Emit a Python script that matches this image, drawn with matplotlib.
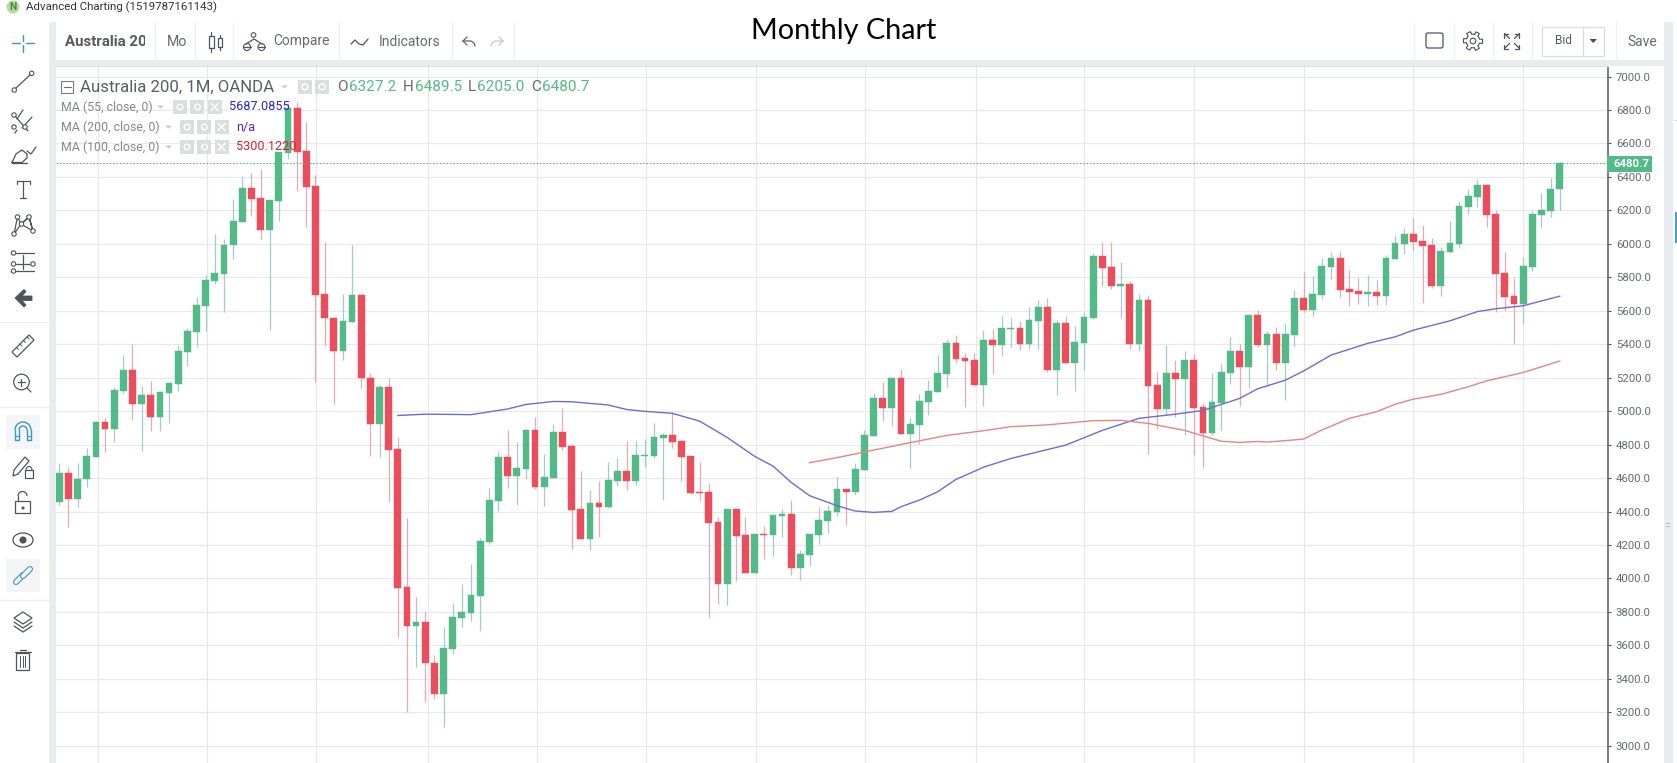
import numpy as np
import matplotlib
matplotlib.use('Agg')
import matplotlib.pyplot as plt
from matplotlib.patches import Rectangle, Circle, Polygon, Arc, FancyBboxPatch

plt.rcParams['font.family'] = ['Roboto', 'DejaVu Sans']

# monthly candles
opens = [4456, 4631, 4477, 4597, 4725, 4933, 4892, 5121, 5246, 5041,
         5095, 4964, 5108, 5162, 5354, 5472, 5629, 5778, 5818, 5993,
         6131, 6334, 6273, 6083, 6255, 6542, 6811, 6555, 6345, 5700,
         5559, 5359, 5531, 5693, 5200, 4923, 5144, 4774, 3948, 3717,
         3738, 3494, 3312, 3578, 3763, 3795, 3895, 4218, 4463, 4726,
         4612, 4654, 4887, 4546, 4600, 4875, 4791, 4415, 4236, 4451,
         4427, 4582, 4642, 4582, 4730, 4732, 4839, 4857, 4821, 4732,
         4517, 4517, 4337, 3967, 4415, 4260, 4032, 4266, 4260, 4373,
         4385, 4062, 4140, 4260, 4343, 4397, 4534, 4517, 4648, 4851,
         5078, 5018, 5198, 4863, 4917, 5054, 5114, 5221, 5407, 5317,
         5305, 5156, 5425, 5395, 5490, 5496, 5401, 5538, 5622, 5245,
         5526, 5287, 5407, 5556, 5927, 5861, 5747, 5759, 5401, 5664,
         5156, 5012, 5227, 5192, 5305, 5024, 4869, 5048, 5227, 5359,
         5263, 5574, 5395, 5460, 5287, 5454, 5676, 5604, 5694, 5861,
         5915, 5729, 5717, 5700, 5711, 5688, 5909, 5998, 6058, 6016,
         5992, 5747, 5950, 5998, 6220, 6279, 6351, 6178, 5825, 5688,
         5640, 5861, 6172, 6196, 6327.2]
highs = [4692, 4666, 4692, 4777, 4944, 4957, 5144, 5336, 5400, 5149,
         5180, 5123, 5174, 5398, 5495, 5682, 5816, 6057, 6026, 6267,
         6406, 6424, 6447, 6262, 6550, 6842, 6847, 6727, 6411, 6011,
         5559, 5700, 5993, 5703, 5231, 5154, 5200, 4846, 4361, 3892,
         3807, 3545, 3712, 3851, 3966, 4086, 4240, 4542, 4762, 4887,
         4815, 4891, 4967, 4744, 4923, 5019, 4801, 4642, 4529, 4582,
         4696, 4720, 4821, 4821, 4833, 4929, 4867, 4995, 4827, 4732,
         4696, 4570, 4367, 4415, 4415, 4367, 4266, 4313, 4379, 4415,
         4469, 4170, 4267, 4425, 4439, 4606, 4534, 4688, 4887, 5106,
         5174, 5198, 5251, 4957, 5102, 5186, 5335, 5431, 5455, 5347,
         5347, 5484, 5490, 5568, 5556, 5538, 5622, 5664, 5676, 5544,
         5568, 5508, 5592, 5943, 6010, 6010, 5891, 5777, 5700, 5694,
         5239, 5395, 5305, 5359, 5341, 5048, 5227, 5281, 5443, 5401,
         5574, 5604, 5478, 5502, 5526, 5723, 5831, 5807, 5915, 5951,
         5957, 5843, 5795, 5813, 5783, 5933, 6052, 6094, 6154, 6112,
         6034, 5980, 6136, 6255, 6327, 6387, 6357, 6202, 5951, 5795,
         5921, 6196, 6303, 6393, 6489.5]
lows = [4438, 4307, 4425, 4546, 4725, 4756, 4815, 5108, 4949, 4764,
        4882, 4882, 4928, 5123, 5269, 5385, 5482, 5760, 5595, 5911,
        6131, 6167, 6026, 5488, 6139, 6509, 6316, 6103, 5175, 5390,
        5041, 5308, 5531, 5139, 4731, 4726, 4456, 3653, 3204, 3473,
        3263, 3281, 3114, 3548, 3709, 3748, 3688, 4206, 4403, 4540,
        4439, 4594, 4536, 4433, 4600, 4768, 4176, 4236, 4170, 4248,
        4421, 4552, 4529, 4558, 4666, 4720, 4469, 4780, 4582, 4507,
        4463, 3763, 3847, 3841, 3985, 4032, 4032, 4116, 4134, 4248,
        4020, 3991, 4074, 4206, 4271, 4373, 4319, 4499, 4648, 4851,
        4941, 4911, 4863, 4660, 4803, 4976, 5114, 5144, 5287, 5024,
        5150, 5030, 5221, 5329, 5383, 5365, 5371, 5371, 5233, 5096,
        5287, 5120, 5245, 5550, 5747, 5730, 5556, 5371, 5359, 4743,
        4893, 4976, 4964, 4857, 4737, 4660, 4857, 4881, 5162, 5030,
        5144, 5383, 5150, 5245, 5066, 5383, 5592, 5568, 5670, 5789,
        5682, 5628, 5640, 5628, 5634, 5634, 5909, 5939, 5963, 5646,
        5735, 5688, 5945, 5974, 6178, 6220, 6100, 5592, 5598, 5401,
        5520, 5837, 6094, 6160, 6205]
closes = [4631, 4477, 4597, 4731, 4933, 4892, 5126, 5246, 5041, 5095,
          4964, 5113, 5167, 5359, 5480, 5634, 5783, 5826, 5995, 6137,
          6334, 6267, 6083, 6262, 6550, 6811, 6550, 6339, 5693, 5557,
          5359, 5539, 5693, 5200, 4923, 5144, 4769, 3943, 3717, 3740,
          3492, 3312, 3582, 3769, 3799, 3901, 4224, 4469, 4726, 4612,
          4660, 4887, 4546, 4606, 4875, 4786, 4409, 4236, 4451, 4427,
          4588, 4642, 4582, 4738, 4738, 4845, 4857, 4815, 4726, 4511,
          4511, 4331, 3967, 4415, 4254, 4032, 4266, 4260, 4379, 4385,
          4062, 4146, 4266, 4349, 4403, 4534, 4517, 4654, 4857, 5078,
          5018, 5198, 4863, 4923, 5060, 5120, 5227, 5407, 5311, 5299,
          5156, 5425, 5395, 5496, 5496, 5401, 5544, 5622, 5245, 5526,
          5287, 5413, 5562, 5927, 5855, 5747, 5759, 5401, 5664, 5150,
          5012, 5227, 5192, 5305, 5018, 4869, 5054, 5233, 5359, 5263,
          5574, 5395, 5460, 5287, 5460, 5676, 5604, 5700, 5867, 5915,
          5723, 5711, 5700, 5711, 5688, 5915, 6004, 6058, 6010, 5986,
          5747, 5956, 6004, 6225, 6285, 6351, 6172, 5819, 5682, 5640,
          5867, 6178, 6202, 6327, 6480.7]

# moving averages, knots by candle number
ma55_idx = [37, 40, 42, 45, 49, 51, 54, 56, 60, 62, 64, 67, 70, 73, 76, 78, 80, 82,
            85, 87, 89, 91, 92, 94, 96, 98, 100, 101, 104, 107, 110, 114, 118, 122,
            125, 129, 131, 134, 136, 139, 143, 146, 148, 152, 155, 157, 160, 164]
ma55_val = [4974, 4982, 4981, 4979, 5013, 5040, 5058, 5056, 5037, 5010, 4999, 4987,
            4940, 4843, 4730, 4672, 4574, 4495, 4435, 4403, 4395, 4401, 4429, 4468,
            4518, 4592, 4640, 4665, 4717, 4757, 4797, 4885, 4957, 4982, 5004, 5076,
            5134, 5185, 5240, 5335, 5405, 5444, 5484, 5540, 5595, 5612, 5630, 5687]
ma100_idx = [82, 85, 89, 93, 97, 101, 104, 108, 113, 116, 119, 123, 127, 129, 131,
             132, 136, 138, 141, 144, 146, 148, 151, 154, 156, 160, 162, 164]
ma100_val = [4692, 4722, 4767, 4812, 4855, 4883, 4907, 4918, 4943, 4945, 4927, 4885,
             4820, 4813, 4819, 4815, 4833, 4887, 4957, 4997, 5041, 5072, 5100, 5146,
             5181, 5231, 5265, 5300]

price_ticks = list(range(3000, 7001, 200))
year_grid = [4.2, 16.1, 28.1, 40.3, 52.2, 64.1, 76.2, 88.1, 100.2, 112.0, 124.0, 136.1, 148.0, 160.0]
last_price = 6480.7

GREEN = '#53b987'
RED = '#eb4d5c'
GREEN_WICK = '#a6cac9'
RED_WICK = '#e9a9b1'
GRID = '#e6e8ea'
BAND = '#e9ecef'
ICON = '#50535e'
TEXT = '#5d6066'

W, H = 1677, 763
fig = plt.figure(figsize=(W / 100, H / 100), dpi=100, facecolor='white')

# chart pane
ax = fig.add_axes([56 / W, 0, (1607.6 - 56) / W, (H - 66) / H])
ax.set_xlim(-0.36, 169.23)
ax.set_ylim(2897, 7063)
ax.set_axisbelow(True)
for v in price_ticks:
    ax.axhline(v, color=GRID, lw=0.85, zorder=0)
for v in year_grid:
    ax.axvline(v, color=GRID, lw=0.85, zorder=0)

o = np.array(opens)
c = np.array(closes)
hi = np.array(highs)
lo = np.array(lows)
x = np.arange(len(o))
up = c >= o
ax.vlines(x[up], lo[up], hi[up], color=GREEN_WICK, lw=0.9, zorder=2)
ax.vlines(x[~up], lo[~up], hi[~up], color=RED_WICK, lw=0.9, zorder=2)
body_lo = np.minimum(o, c)
body_h = np.abs(c - o)
ax.bar(x[up], body_h[up], bottom=body_lo[up], width=0.74, color=GREEN, edgecolor=GREEN, lw=0.3, zorder=3)
ax.bar(x[~up], body_h[~up], bottom=body_lo[~up], width=0.74, color=RED, edgecolor=RED, lw=0.3, zorder=3)

ax.plot(ma55_idx, ma55_val, color='#6f6bd6', lw=1.0, zorder=4)
ax.plot(ma100_idx, ma100_val, color='#e88484', lw=1.0, zorder=4)
ax.axhline(last_price, color=GREEN, lw=0.8, ls=(0, (1.5, 1.5)), zorder=4)

ax.yaxis.tick_right()
ax.set_yticks(price_ticks)
ax.set_yticklabels(['%.1f' % v for v in price_ticks], color='#666a70', fontsize=8.2)
ax.tick_params(axis='y', length=2.5, width=0.8, color='#555555', pad=3.5)
ax.set_xticks([])
for s in ['left', 'bottom']:
    ax.spines[s].set_visible(False)
ax.spines['top'].set_color('#dcdfe3')
ax.spines['right'].set_color('#555a60')
ax.spines['right'].set_linewidth(1.1)

# everything round the chart, drawn in screen pixels
ui = fig.add_axes([0, 0, 1, 1], facecolor='none')
ui.set_xlim(0, W)
ui.set_ylim(H, 0)
ui.axis('off')


def line(xs, ys, color=ICON, lw=0.9, z=6):
    ui.plot(xs, ys, color=color, lw=lw, solid_capstyle='round', solid_joinstyle='round', zorder=z)


def circ(cx, cy, r=2.2, color=ICON, lw=0.8, fill='white', z=5):
    ui.add_patch(Circle((cx, cy), r, fc=fill, ec=color, lw=lw, zorder=z))


def box(x0, y0, x1, y1, color, z=1, ec='none', lw=0):
    ui.add_patch(Rectangle((x0, y0), x1 - x0, y1 - y0, fc=color, ec=ec, lw=lw, zorder=z))


def label(px, py, s, color=TEXT, size=9, ha='left', **kw):
    return ui.text(px, py, s, color=color, fontsize=size, ha=ha, va='center', zorder=8, **kw)


# bands
box(49, 22, 56, H, BAND)
box(49, 60, 1664, 66, BAND)
box(1664, 22, 1673, H, BAND)
box(1675, 212, 1677, 243, '#4a9bc7')
box(1674, 120, 1677, 121, '#dddddd')
box(1666, 523, 1670, 524, '#b5b9be')
box(1666, 526, 1670, 527, '#b5b9be')

# window title
ui.add_patch(Circle((13, 7), 6.5, fc='#a5cf7c', ec='none', alpha=0.75))
label(9.5, 7, 'N', color='#3d8f3d', size=7.5, weight='bold')
label(26, 7, 'Advanced Charting (1519787161143)', color='#333333', size=8.25)
label(751, 31.5, 'Monthly Chart', color='black', size=20.8, family='Lato')

# top toolbar
for sx in [155, 195, 233, 339, 452, 514, 1414, 1453.7, 1492.7, 1531.7, 1616]:
    line([sx, sx], [22, 60], color='#eef0f2', lw=0.9, z=2)
# the symbol name is cut off by its box in the app
symbol = label(65, 42, 'Australia 200', color='#555a60', size=10.8, weight='bold')
symbol.set_clip_on(True)
symbol.set_clip_path(Rectangle((60, 25), 85, 30, transform=ui.transData))
label(167, 42, 'Mo', color='#666a70', size=10.2)
# candle type icon
box(209, 36, 214, 48, 'white', ec=ICON, lw=0.9)
line([211.5, 211.5], [32, 36])
line([211.5, 211.5], [48, 52])
box(218, 38, 222, 47, 'white', ec=ICON, lw=0.9)
line([220, 220], [34.5, 38])
line([220, 220], [47, 50])
# compare icon
line([246, 254, 262], [44, 39, 44])
circ(253.5, 35, 2.3, z=7)
ui.add_patch(Arc((247, 47), 7, 7, theta1=0, theta2=360, color=ICON, lw=0.8))
ui.add_patch(Arc((261.5, 47), 7, 7, theta1=0, theta2=360, color=ICON, lw=0.8))
line([243, 251], [47, 47])
line([258, 265], [47, 47])
label(273, 41.5, 'Compare', color='#666a70', size=10)
line([351, 355, 359, 363, 368], [44, 40, 44, 45, 39])
label(379, 41.5, 'Indicators', color='#666a70', size=10)
# undo and redo
line([463, 467], [41, 37], color='#60646a')
line([463, 467], [41, 45], color='#60646a')
line([463, 471, 474, 475], [41, 41, 43, 46], color='#60646a')
line([503, 499], [41, 37], color='#c5c8cc')
line([503, 499], [41, 45], color='#c5c8cc')
line([503, 495, 492, 491], [41, 41, 43, 46], color='#c5c8cc')
# right hand of the toolbar
ui.add_patch(FancyBboxPatch((1426, 33), 17, 15, boxstyle='round,pad=0,rounding_size=2', fc='white', ec=ICON, lw=0.9))
theta = np.linspace(0, 2 * np.pi, 97)
gear = 8.2 + 1.4 * np.sign(np.cos(6 * theta))
line(1473 + gear * np.cos(theta), 41 + gear * np.sin(theta), lw=0.8)
circ(1473, 41, 2.8)
for sx, sy in [(-1, -1), (1, -1), (-1, 1), (1, 1)]:
    ax0, ay0 = 1512 + sx * 2.5, 41 + sy * 2.5
    ax1, ay1 = 1512 + sx * 7.5, 41 + sy * 7.5
    line([ax0, ax1], [ay0, ay1])
    line([ax1, ax1], [ay1, ay1 - sy * 4])
    line([ax1, ax1 - sx * 4], [ay1, ay1])
box(1542, 26.5, 1604.5, 55.5, 'white', ec='#dadce0', lw=0.9)
line([1583.5, 1583.5], [26.5, 55.5], color='#dadce0')
label(1555, 40.5, 'Bid', color='#555a60', size=8.6)
ui.add_patch(Polygon([[1589.5, 39], [1597, 39], [1593.2, 43]], fc='#4a4d52', ec='none', zorder=6))
label(1627, 41.5, 'Save', color='#666a70', size=10)

# legend over the chart
box(61.5, 81, 73, 92.5, 'white', ec='#777a80', lw=0.8, z=6)
line([64, 71], [87, 87], color='#666a70', lw=0.8, z=7)
label(80, 87, 'Australia 200, 1M, OANDA', color='#5a5d63', size=12.1)
ui.add_patch(Polygon([[281, 85.5], [288, 85.5], [284.5, 88.5]], fc='#c8cacd', ec='none', zorder=6))
for sx in [298, 315]:
    box(sx, 79.5, sx + 14, 94, '#dcdddf', z=6)
    circ(sx + 7, 86.8, 3, color='white', lw=1, fill='none', z=7)
label(337, 87, 'O', color='#666a70', size=11)
label(349, 87, '6327.2', color=GREEN, size=11)
label(403, 87, 'H', color='#666a70', size=11)
label(415, 87, '6489.5', color=GREEN, size=11)
label(468, 87, 'L', color='#666a70', size=11)
label(477, 87, '6205.0', color=GREEN, size=11)
label(531, 87, 'C', color='#666a70', size=11)
label(542, 87, '6480.7', color=GREEN, size=11)

ma_rows = [(107, 'MA (55, close, 0)', 157, 173, '5687.0855', 229, '#2a22d0'),
           (127, 'MA (200, close, 0)', 165, 180, 'n/a', 236, '#5a22c8'),
           (147, 'MA (100, close, 0)', 165, 180, '5300.1220', 236, '#d9222a')]
for ry, name, caret, sq, val, vx, col in ma_rows:
    label(61, ry, name, color='#85888c', size=8.9)
    ui.add_patch(Polygon([[caret, ry - 1.5], [caret + 7, ry - 1.5], [caret + 3.5, ry + 1.5]], fc='#c8cacd', ec='none', zorder=6))
    for k in range(3):
        box(sq + k * 17.5, ry - 7, sq + k * 17.5 + 14, ry + 7, '#dcdddf', z=6)
    circ(sq + 7, ry, 2.8, color='white', lw=1, fill='none', z=7)
    circ(sq + 24.5, ry, 2.8, color='white', lw=1, fill='none', z=7)
    line([sq + 38, sq + 45], [ry - 3.5, ry + 3.5], color='white', lw=1, z=7)
    line([sq + 38, sq + 45], [ry + 3.5, ry - 3.5], color='white', lw=1, z=7)
    label(vx, ry, val, color=col, size=9.1)

# price tag
box(1607, 156, 1652, 172, GREEN, z=6)
label(1614, 164, '6480.7', color='white', size=8.2, weight='bold')

# left toolbar
BLUE = '#3b97c4'
line([12, 20], [43, 43], color=BLUE, lw=1)
line([26, 34], [43, 43], color=BLUE, lw=1)
line([23, 23], [35, 41], color=BLUE, lw=1)
line([23, 23], [45, 52], color=BLUE, lw=1)
line([16, 30], [88, 75])
circ(14.3, 90, z=7)
circ(31.7, 73.3, z=7)
# pitchfork
line([15, 28], [116, 131])
line([17, 23], [119, 110])
line([22, 32], [128, 117])
line([17, 15], [130, 133])
circ(14, 115, z=7)
circ(14, 127, z=7)
circ(25, 127, z=7)
# brush
line([12, 27], [162.5, 162.5])
line([12, 16, 22, 27, 27, 22, 17, 12], [162.5, 154, 150, 154, 158, 162.5, 162.5, 162.5])
line([27, 31, 36], [151, 154, 147])
# text tool
line([17, 30], [181, 181])
line([23.5, 23.5], [181, 198])
line([17, 17], [181, 184])
line([30, 30], [181, 184])
line([20.5, 26.5], [198, 198])
# pattern tool
line([14, 17.5, 21, 29, 33, 29, 21, 14], [234, 217, 224, 217, 231, 217, 224, 234])
line([21, 33], [224, 231])
for px, py in [(14, 234), (17.5, 217), (21.5, 224), (29, 217), (33, 231)]:
    circ(px, py, z=7)
# fib tool
line([16, 34], [253, 253])
line([16, 30], [264, 264])
line([16, 34], [271, 271])
line([23.5, 23.5], [255, 269])
for px, py in [(13.5, 253), (13.5, 264), (33, 264), (13.5, 271)]:
    circ(px, py, z=7)
# back arrow
ui.add_patch(Polygon([[15, 298], [24, 289.5], [26, 291.5], [22, 296], [32, 296], [32, 300.5], [22, 300.5], [26, 305], [24, 307]], fc=ICON, ec=ICON, lw=0.6))
line([0, 49], [322, 322], color='#eceef0', lw=0.9, z=2)
# ruler
ui.add_patch(Polygon([[12, 352], [29, 335], [34, 340], [17, 357]], fc='white', ec=ICON, lw=0.9))
for k in range(4):
    line([16.5 + k * 3.5, 18.5 + k * 3.5], [347.5 - k * 3.5, 349.5 - k * 3.5], lw=0.7)
# zoom
circ(21.5, 382, 7.8, lw=0.9)
line([27, 31], [388, 392])
line([18, 25], [382, 382])
line([21.5, 21.5], [378.5, 385.5])
line([0, 49], [407, 407], color='#eceef0', lw=0.9, z=2)
# magnet
box(6, 415, 40, 449, '#f3f5f6')
ui.add_patch(Arc((23, 430), 16, 16, theta1=180, theta2=360, color=BLUE, lw=1))
ui.add_patch(Arc((23, 430), 8, 8, theta1=180, theta2=360, color=BLUE, lw=1))
line([15, 15, 19, 19], [430, 440, 440, 430], color=BLUE, lw=1)
line([31, 31, 27, 27], [430, 440, 440, 430], color=BLUE, lw=1)
line([15, 19], [436, 436], color=BLUE, lw=0.8)
line([27, 31], [436, 436], color=BLUE, lw=0.8)
# pencil and lock
ui.add_patch(Polygon([[13, 476], [14, 470], [25, 457], [29, 461], [18, 474]], fc='white', ec=ICON, lw=0.9))
box(25, 470, 33, 478, 'white', ec=ICON, lw=0.9, z=4)
ui.add_patch(Arc((29, 470), 6, 7, theta1=180, theta2=360, color=ICON, lw=0.8))
# open lock
box(15.5, 501, 30.5, 513, 'white', ec=ICON, lw=0.9)
line([18, 18], [501, 496])
ui.add_patch(Arc((22.5, 496), 9, 9, theta1=180, theta2=360, color=ICON, lw=0.9))
circ(23, 508, 1, fill=ICON)
# eye
ui.add_patch(Arc((23, 540), 20, 14, color=ICON, lw=0.9))
circ(23, 540, 3, fill=ICON)
# link
box(6, 559, 40, 592, '#f3f5f6')
line([16, 23], [582, 575], color=BLUE, lw=4.4, z=5)
line([16, 23], [582, 575], color='#f3f5f6', lw=2.8, z=6)
line([23, 30], [576, 569], color=BLUE, lw=4.4, z=7)
line([23, 30], [576, 569], color='#f3f5f6', lw=2.8, z=8)
line([0, 49], [600, 600], color='#eceef0', lw=0.9, z=2)
# layers
ui.add_patch(Polygon([[14, 618], [23, 612], [32, 618], [23, 624]], fc='white', ec=ICON, lw=0.9))
line([14, 23, 32], [622, 628, 622])
line([14, 23, 32], [626, 632, 626])
# trash
box(16.5, 653, 29.5, 670, 'white', ec=ICON, lw=0.9)
line([15, 31], [652, 652])
line([20, 26], [650, 650])
for tx in [20.5, 23, 25.5]:
    line([tx, tx], [656, 667], lw=0.7)

fig.savefig('out.png', dpi=100)
